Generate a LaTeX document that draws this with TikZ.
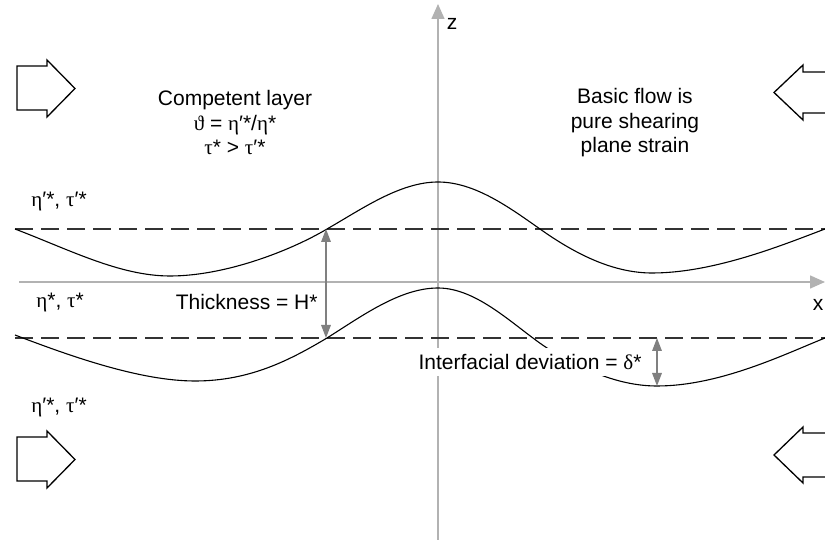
\documentclass[tikz,border=0pt]{standalone}
\usepackage{fontspec}
\setmainfont{Liberation Sans}
\newfontfamily\gr{Liberation Serif}
\usetikzlibrary{arrows.meta}
\newcommand\gEta{{\gr η}}
\newcommand\gTau{{\gr τ}}
\newcommand\gDelta{{\gr δ}}
\newcommand\gTheta{{\gr ϑ}}
\newcommand\pr{′}
\begin{document}
\begin{tikzpicture}[x=0.5pt,y={(0pt,-0.5pt)},
  axis/.style={draw=black!30, line width=0.75pt, -{Triangle[length=7.5pt,width=6.5pt]}},
  dimline/.style={draw=black!50, line width=0.65pt, {Triangle[length=6.5pt,width=4.8pt]}-{Triangle[length=6.5pt,width=4.8pt]}},
  iface/.style={draw=black, line width=0.55pt},
  refline/.style={draw=black!80, line width=0.65pt, dash pattern=on 9pt off 4pt},
  block/.style={draw=black, line width=0.65pt, line join=miter},
  lab/.style={font=\fontsize{10.5}{12.25}\selectfont, inner sep=0pt}]
\useasboundingbox (0,0) rectangle (825,549);
% axes
\coordinate (zb) at (438,540);
\coordinate (zt) at (438,4);
\coordinate (xl) at (19,282);
\coordinate (xr) at (825,282);
\draw[axis] (zb) -- (zt);
\draw[axis] (xl) -- (xr);
\node[lab] (zlab) at (452,24) {z};
\node[lab] (xlab) at (818,305) {x};
% reference dashed lines
\coordinate (ua) at (15,229);
\coordinate (ub) at (825,229);
\coordinate (la) at (15,338);
\coordinate (lb) at (825,338);
\draw[refline] (ua) -- (ub);
\draw[refline] (la) -- (lb);
% upper interface
\draw[iface] (15,229) .. controls (70,250) and (120,276) .. (170,276)
  .. controls (225,276) and (290,251) .. (327,229)
  .. controls (362,209) and (400,182) .. (438,182)
  .. controls (475,182) and (510,208) .. (540,229)
  .. controls (578,256) and (615,273) .. (652,273)
  .. controls (715,273) and (785,244) .. (825,229);
% lower interface
\draw[iface] (15,335) .. controls (70,356) and (140,381) .. (195,381)
  .. controls (250,381) and (290,360) .. (327,338)
  .. controls (362,316) and (400,288) .. (438,288)
  .. controls (478,288) and (515,327) .. (547,348)
  .. controls (577,366) and (615,386) .. (657,386)
  .. controls (720,386) and (785,354) .. (825,338);
% dimension arrows
\coordinate (t1) at (326,229);
\coordinate (t2) at (326,338);
\draw[dimline] (t1) -- (t2);
\coordinate (d1) at (657,338);
\coordinate (d2) at (657,386);
\draw[dimline] (d1) -- (d2);
% block arrows
\draw[block] (17,66) -- (47,66) -- (47,60) -- (75,88.5) -- (47,117) -- (47,110) -- (17,110) -- cycle;
\draw[block] (17,437) -- (47,437) -- (47,431) -- (75,459.5) -- (47,488) -- (47,481) -- (17,481) -- cycle;
\draw[block] (825,72) -- (803,72) -- (803,65) -- (774,92.5) -- (803,120) -- (803,113) -- (825,113);
\draw[block] (825,433) -- (803,433) -- (803,427) -- (774,455) -- (803,483) -- (803,477) -- (825,477);
% labels
\node[lab, align=center] (comp) at (235,123) {Competent layer\\ \gTheta\ = \gEta\pr*/\gEta* \\ \gTau* > \gTau\pr*};
\node[lab, align=center] (flow) at (635,123) {Basic flow is\\ pure shearing\\ plane strain};
\node[lab, anchor=west] (v1) at (31,202) {\gEta\pr*, \gTau\pr*};
\node[lab, anchor=west] (v2) at (36,303) {\gEta*, \gTau*};
\node[lab, anchor=west] (v3) at (31,408) {\gEta\pr*, \gTau\pr*};
\node[lab, anchor=east] (thick) at (318,302) {Thickness = H*};
\node[lab, fill=white, inner xsep=2pt, inner ysep=3pt] (dev) at (530,362) {Interfacial deviation = \gDelta*};
\end{tikzpicture}
\end{document}
